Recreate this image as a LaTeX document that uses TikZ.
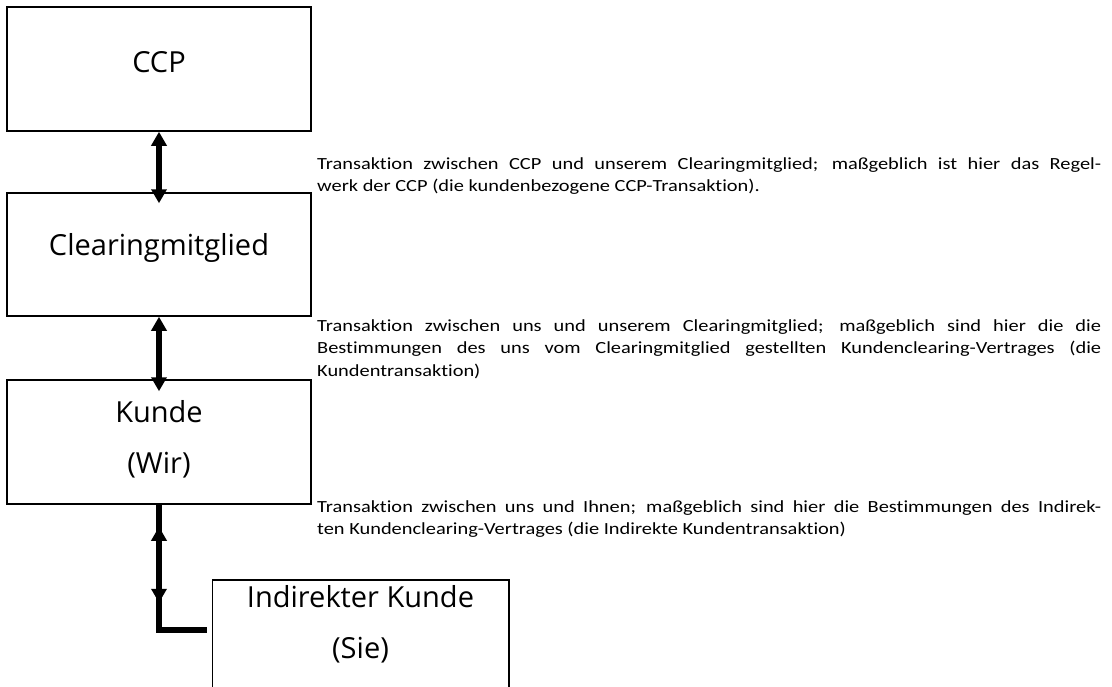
\documentclass[tikz,border=0pt]{standalone}
\usepackage{fontspec}
\setmainfont{Carlito}
\newfontfamily\boxfont{Open Sans}
\newfontfamily\notefont[FakeStretch=1.2,Ligatures=NoCommon]{Carlito}
\usetikzlibrary{arrows.meta}

\tikzset{
  box/.style={draw, line width=1.5pt, minimum width=304pt, inner sep=0pt,
    align=center, font=\boxfont\fontsize{29}{51}\selectfont},
  conn/.style={line width=5.5pt},
  dbl/.style={line width=5.5pt,
    {Triangle[length=14pt,width=15pt]}-{Triangle[length=14pt,width=15pt]}},
  note/.style={anchor=north west, inner sep=0pt, text width=784pt,
    align=justify, font=\notefont\fontsize{17}{22.5}\selectfont}
}

\begin{document}
\begin{tikzpicture}[x=1pt,y=-1pt]
        \clip (0,0) rectangle (1112,686);

        % boxes
        \node[box, minimum height=124pt, text depth=14pt] (ccp) at (159,69) {CCP};
        \node[box, minimum height=123pt, text depth=20pt] (clm) at (159,254.5) {Clearingmitglied};
        \node[box, minimum height=124pt, text depth=11pt] (kunde) at (159,442) {Kunde\\(Wir)};
        \node[box, draw=none, minimum width=295pt, text depth=17pt] (ind) at (360.5,630) {Indirekter Kunde\\(Sie)};
        \draw[line width=1.5pt] ([yshift=-30pt]ind.south west) |- ([yshift=4pt]ind.north east) -- ([yshift=-30pt]ind.south east);

        % connectors
        \draw[dbl, shorten >=-11pt] (ccp.south) -- (clm.north);
        \draw[dbl, shorten >=-12pt] (clm.south) -- (kunde.north);
        \draw[conn] (kunde.south) |- ([xshift=-5pt]ind.west);
        \draw[dbl] ([yshift=-22pt]kunde.south) -- ([yshift=-98pt]kunde.south);

        % descriptions
        \node[note] (txtccp) at (317,157) {Transaktion zwischen CCP und unserem Clearingmitglied; maßgeblich ist hier das Regel-\linebreak werk der CCP (die kundenbezogene CCP-Transaktion).};
        \node[note] (txtclm) at (317,319) {Transaktion zwischen uns und unserem Clearingmitglied; maßgeblich sind hier die die\linebreak Bestimmungen des uns vom Clearingmitglied gestellten Kundenclearing-Vertrages (die\linebreak Kundentransaktion)};
        \node[note] (txtkunde) at (317,500) {Transaktion zwischen uns und Ihnen; maßgeblich sind hier die Bestimmungen des Indirek-\linebreak ten Kundenclearing-Vertrages (die Indirekte Kundentransaktion)};

\end{tikzpicture}
\end{document}
